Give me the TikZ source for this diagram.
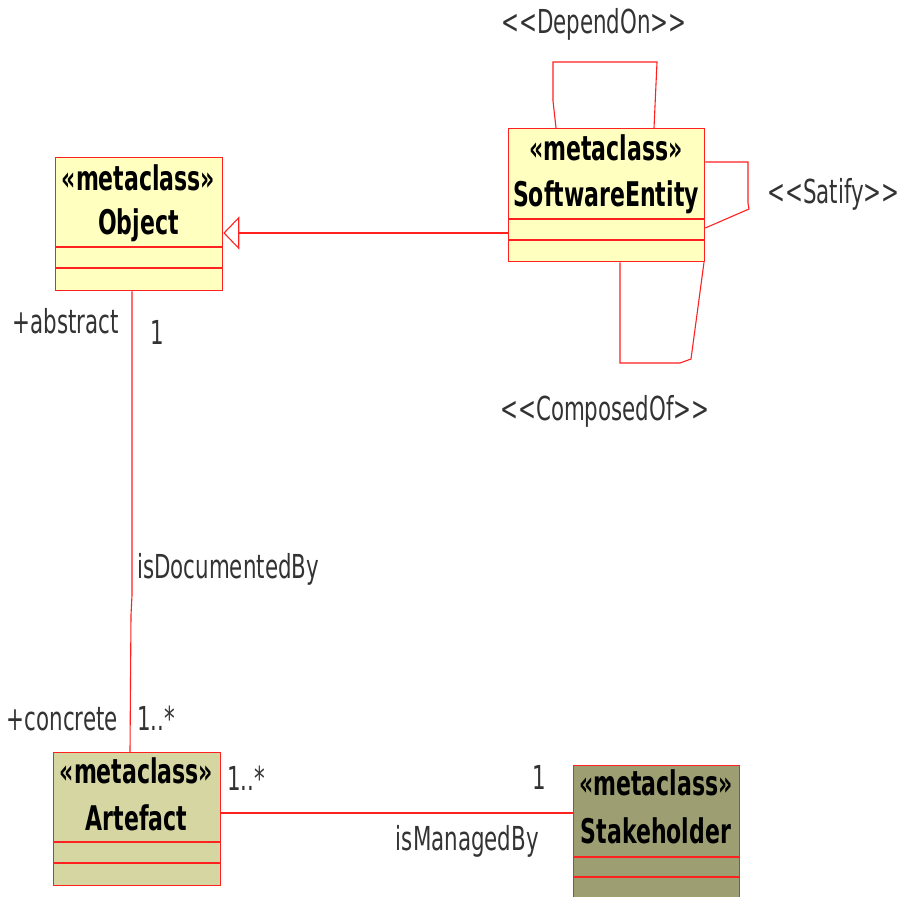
\documentclass[tikz,border=0pt]{standalone}
\usepackage{fontspec}
\usetikzlibrary{arrows.meta}
\newfontfamily\labfont[FakeStretch=0.72]{DejaVu Sans Condensed}
\definecolor{umlyellow}{HTML}{FFFFC0}
\definecolor{artef}{HTML}{D6D6A3}
\definecolor{stake}{HTML}{9E9E73}
\definecolor{umlred}{HTML}{FF2020}
\definecolor{labgray}{HTML}{333333}
\tikzset{
  cls/.style={draw=umlred, line width=1.3pt, anchor=north west, inner sep=0pt},
  link/.style={draw=umlred, line width=1.1pt},
  sep/.style={draw=umlred, line width=1.3pt},
  lab/.style={text=labgray, font=\labfont\fontsize{33}{38}\selectfont, inner sep=0pt},
  title/.style={font=\labfont\bfseries\fontsize{34}{38}\selectfont, inner sep=0pt, anchor=base},
  gen/.style={link, -{Triangle[open, length=16pt, width=33pt, fill=white]}},
}
\begin{document}
\begin{tikzpicture}[x=1pt,y=-1pt]
\useasboundingbox (0,0) rectangle (900,897);
\fill[white] (0,0) rectangle (900,897);

% Object
\node[cls, fill=umlyellow, minimum width=167pt, minimum height=133pt] (obj) at (55,157) {};
\node[title] (objs) at (138.5,190) {«metaclass»};
\node[title] (objn) at (138.5,234) {Object};
\draw[sep] (obj.west |- 0,247) -- (obj.east |- 0,247);
\draw[sep] (obj.west |- 0,268) -- (obj.east |- 0,268);

% SoftwareEntity
\node[cls, fill=umlyellow, minimum width=196pt, minimum height=133pt] (se) at (508,128) {};
\node[title] (ses) at (606,160) {«metaclass»};
\node[title] (sen) at (606,206) {SoftwareEntity};
\draw[sep] (se.west |- 0,219) -- (se.east |- 0,219);
\draw[sep] (se.west |- 0,240) -- (se.east |- 0,240);

% Artefact
\node[cls, fill=artef, minimum width=167pt, minimum height=133pt] (art) at (53,752) {};
\node[title] (arts) at (136.5,783) {«metaclass»};
\node[title] (artn) at (136.5,830) {Artefact};
\draw[sep] (art.west |- 0,842) -- (art.east |- 0,842);
\draw[sep] (art.west |- 0,863) -- (art.east |- 0,863);

% Stakeholder
\node[cls, fill=stake, minimum width=166pt, minimum height=140pt] (stk) at (573,765) {};
\node[title] (stks) at (656,795) {«metaclass»};
\node[title] (stkn) at (656,843) {Stakeholder};
\draw[sep] (stk.west |- 0,857) -- (stk.east |- 0,857);
\draw[sep] (stk.west |- 0,877) -- (stk.east |- 0,877);

% Generalization
\draw[gen] (se.west |- 0,233) -- (obj.east |- 0,233);

% Self loops
\draw[link] (se.north -| 556,0) -- (553,101) -- (553,62) -- (657,62) -- (se.north -| 654,0);
\draw[link] (se.east |- 0,162) -- (748,162) -- (748,203) -- (749,209) -- (se.east |- 0,228);
\draw[link] (se.south -| 620,0) -- (620,363) -- (680,363) -- (691,359) -- (se.south -| 704,0);

% Associations
\draw[link] (obj.south -| 132,0) -- (132,595) -- (131,615) -- (art.north -| 130,0);
\draw[link] (art.east |- 0,813) -- (stk.west |- 0,813);

% Labels
\node[lab, anchor=base] (ldep) at (594,33) {<<DependOn>>};
\node[lab, anchor=base west] (lsat) at (767,203) {<<Satify>>};
\node[lab, anchor=base] (lcomp) at (605,420) {<<ComposedOf>>};
\node[lab, anchor=base east] (labs) at (119,333) {+abstract};
\node[lab, anchor=base] (lone1) at (157,344) {1};
\node[lab, anchor=base west] (ldoc) at (137,578) {isDocumentedBy};
\node[lab, anchor=base east] (lconc) at (118,730) {+concrete};
\node[lab, anchor=base west] (lmany1) at (137,730) {1..*};
\node[lab, anchor=base west] (lmany2) at (227,790) {1..*};
\node[lab, anchor=base] (lone2) at (539,789) {1};
\node[lab, anchor=base east] (lman) at (539,850) {isManagedBy};
\end{tikzpicture}
\end{document}
